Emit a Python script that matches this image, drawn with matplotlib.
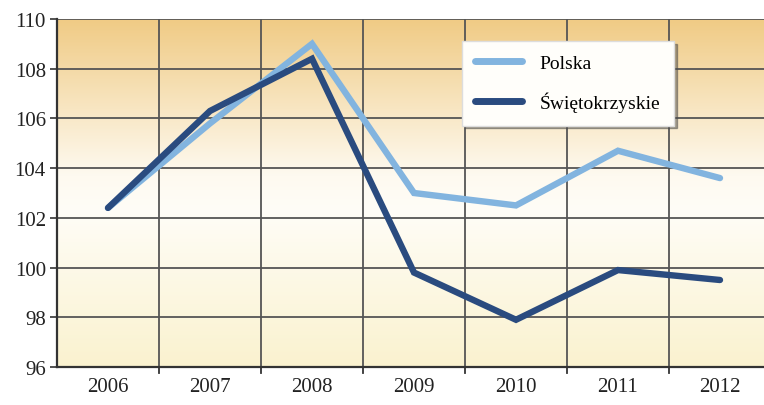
import numpy as np
import matplotlib.pyplot as plt
from matplotlib.colors import LinearSegmentedColormap

years = ['2006', '2007', '2008', '2009', '2010', '2011', '2012']
polska = [102.4, 105.8, 109.0, 103.0, 102.5, 104.7, 103.6]
swietokrzyskie = [102.4, 106.3, 108.4, 99.8, 97.9, 99.9, 99.5]
yticks = [96, 98, 100, 102, 104, 106, 108, 110]

plt.rcParams['font.family'] = ['Liberation Serif', 'DejaVu Serif']

fig = plt.figure(figsize=(7.64, 4.06), dpi=100)
ax = fig.add_axes([57 / 764, 38 / 406, 714 / 764, 348 / 406])

# background gradient: tan at top, white around the middle, pale yellow at bottom
cmap = LinearSegmentedColormap.from_list('bg', [
    (0.0, '#FAF2CF'), (0.45, '#FFFDF7'), (0.55, '#FEFAF0'), (1.0, '#F0CB85')])
grad = np.linspace(0, 1, 256).reshape(-1, 1)
ax.imshow(grad, aspect='auto', cmap=cmap, origin='lower',
          extent=[-0.5, 6.5, 96, 110], zorder=0)

x = np.arange(len(years))
ax.plot(x, polska, color='#82B4DF', lw=4.6, solid_capstyle='round',
        solid_joinstyle='miter', label='Polska', zorder=3)
ax.plot(x, swietokrzyskie, color='#2A4B7F', lw=4.6, solid_capstyle='round',
        solid_joinstyle='miter', label='Świętokrzyskie', zorder=4)

ax.set_xlim(-0.5, 6.5)
ax.set_ylim(96, 110)
ax.set_yticks(yticks)
ax.set_yticklabels([str(t) for t in yticks], fontsize=15, color='#222222')
ax.set_xticks(x)
ax.set_xticklabels(years, fontsize=15, color='#222222')
ax.tick_params(axis='x', length=0, pad=7)
ax.tick_params(axis='y', length=5, width=1.2, color='#333333', pad=3)

# category boundary ticks / grid
bounds = np.arange(-0.5, 6.5, 1.0)
for b in bounds[1:]:
    ax.axvline(b, color='#555555', lw=1.3, zorder=1)
    ax.plot([b, b], [96, 95.75], color='#333333', lw=1.3, clip_on=False)
for t in yticks[1:]:
    ax.axhline(t, color='#555555', lw=1.3, zorder=1)

for s in ['top', 'right']:
    ax.spines[s].set_visible(False)
for s in ['left', 'bottom']:
    ax.spines[s].set_color('#333333')
    ax.spines[s].set_linewidth(1.6)

leg = ax.legend(loc='upper left', bbox_to_anchor=(0.567, 0.937), fontsize=14,
                frameon=True, fancybox=False, shadow=True, handlelength=2.4,
                handletextpad=0.9, borderpad=0.7, labelspacing=1.0,
                borderaxespad=0, edgecolor='#DDDDDD', framealpha=1)
leg.get_frame().set_facecolor('#FFFEFA')
for h in leg.get_lines():
    h.set_linewidth(5)

fig.savefig('out.png', dpi=100)
